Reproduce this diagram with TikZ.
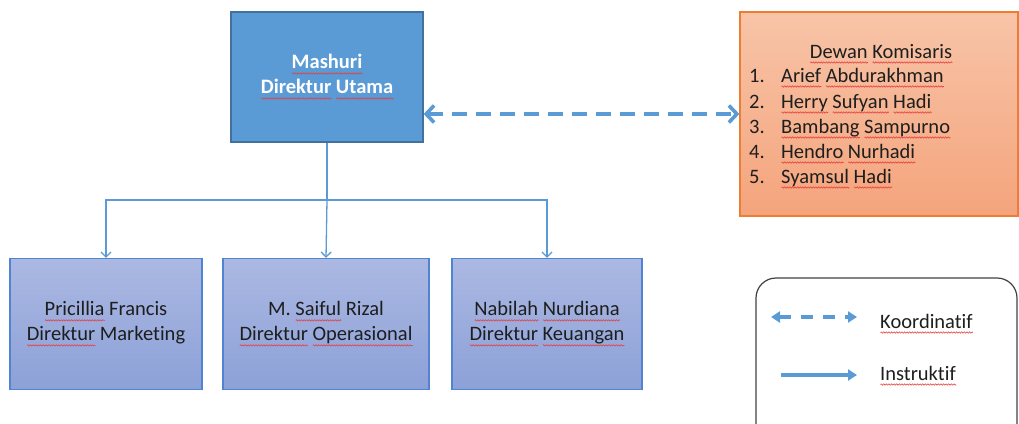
\documentclass[tikz,border=0pt]{standalone}
\usepackage{fontspec}
\setmainfont{Carlito}[Ligatures=NoCommon]
\usetikzlibrary{arrows.meta,decorations.pathmorphing}
\definecolor{mainblue}{RGB}{91,155,213}
\definecolor{mainblueborder}{RGB}{65,113,156}
\definecolor{dirtop}{RGB}{171,184,226}
\definecolor{dirbot}{RGB}{140,161,216}
\definecolor{dirborder}{RGB}{80,132,210}
\definecolor{kotop}{RGB}{248,196,168}
\definecolor{kobot}{RGB}{244,164,124}
\definecolor{koborder}{RGB}{237,125,49}
\definecolor{txt}{RGB}{30,30,30}
\definecolor{sqred}{RGB}{230,60,60}
\newsavebox\sqbox
\newlength\sqlen
\newcommand\sq[1]{\sbox\sqbox{#1}\setlength\sqlen{\wd\sqbox}\leavevmode\rlap{\tikz[baseline=0pt,x=1pt,y=1pt]\draw[sqred,line width=0.55pt,decorate,decoration={zigzag,segment length=2.6pt,amplitude=0.7pt}] (0,-4.5)--(\sqlen,-4.5);}\usebox\sqbox}
\tikzset{
  basefont/.style={font=\fontsize{20.5}{25}\selectfont},
  topbox/.style={draw=mainblueborder, fill=mainblue, line width=1.2pt,
    minimum width=192pt, minimum height=130pt, align=center, text=white,
    font=\fontsize{20.5}{25}\selectfont\bfseries},
  dirbox/.style={draw=dirborder, line width=1.2pt, top color=dirtop, bottom color=dirbot,
    minimum height=131pt, align=center, text=txt, basefont},
  kobox/.style={draw=koborder, line width=1.3pt, top color=kotop, bottom color=kobot,
    minimum width=278pt, minimum height=204pt},
  kotext/.style={text=txt, basefont, inner sep=0pt},
  conn/.style={draw=mainblue, line width=1.3pt, -{Straight Barb[length=5pt,width=10pt]}},
  coordarrow/.style={draw=mainblue, line width=3.6pt, dash pattern=on 15pt off 9pt,
    {Straight Barb[length=8pt,width=17pt]}-{Straight Barb[length=8pt,width=17pt]}},
  legdash/.style={draw=mainblue, line width=3.4pt, dash pattern=on 12pt off 10pt,
    {Triangle[length=9pt,width=11pt]}-{Triangle[length=9pt,width=11pt]}},
  legsolid/.style={draw=mainblue, line width=3.4pt, -{Triangle[length=9pt,width=11pt]}},
  legbox/.style={draw=black!75, line width=1.2pt, rounded corners=20pt},
}
\begin{document}
\begin{tikzpicture}[x=1pt,y=-1pt]
\useasboundingbox (0,0) rectangle (1019,423);
% top box
\node[topbox] (top) at (327,77) {\sq{Mashuri}\\\sq{Direktur} \sq{Utama}};
% directors
\node[dirbox, minimum width=192pt] (d1) at (106,324) {\sq{Pricillia} Francis\\\sq{Direktur} Marketing};
\node[dirbox, minimum width=206pt] (d2) at (326,324) {M. \sq{Saiful} Rizal\\\sq{Direktur} \sq{Operasional}};
\node[dirbox, minimum width=190pt] (d3) at (547,324) {\sq{Nabilah} \sq{Nurdiana}\\\sq{Direktur} \sq{Keuangan}};
% komisaris
\node[kobox] (ko) at (879,114) {};
\node[kotext, anchor=base] (kt) at (881,58) {\sq{Dewan} \sq{Komisaris}};
\node[kotext, anchor=base west] (n1) at (749,82) {1.};
\node[kotext, anchor=base west] (n2) at (749,108) {2.};
\node[kotext, anchor=base west] (n3) at (749,133) {3.};
\node[kotext, anchor=base west] (n4) at (749,158) {4.};
\node[kotext, anchor=base west] (n5) at (749,183) {5.};
\node[kotext, anchor=base west] (k1) at (781,82) {\sq{Arief} \sq{Abdurakhman}};
\node[kotext, anchor=base west] (k2) at (781,108) {\sq{Herry} \sq{Sufyan} \sq{Hadi}};
\node[kotext, anchor=base west] (k3) at (781,133) {\sq{Bambang} \sq{Sampurno}};
\node[kotext, anchor=base west] (k4) at (781,158) {\sq{Hendro} \sq{Nurhadi}};
\node[kotext, anchor=base west] (k5) at (781,183) {\sq{Syamsul} \sq{Hadi}};
% connectors
\coordinate (split) at (327,200);
\draw[draw=mainblue, line width=1.3pt] (top.south) -- (split);
\draw[conn] (split) -| (d1.north);
\draw[conn] (split) -| (d3.north);
\draw[conn] (split) -- (d2.north);
\draw[coordarrow] (top.east |- ko.west) -- (ko.west);
% legend
\begin{scope}
\clip (0,0) rectangle (1019,423);
\draw[legbox] (756,278) rectangle (1017,460);
\end{scope}
\coordinate (la) at (771,317);
\coordinate (lb) at (857,317);
\coordinate (lc) at (781,375);
\coordinate (ld) at (857,375);
\draw[legdash] (la) -- (lb);
\draw[legsolid] (lc) -- (ld);
\node[kotext, anchor=base west] (lk) at (880,328) {\sq{Koordinatif}};
\node[kotext, anchor=base west] (li) at (880,380) {\sq{Instruktif}};
\end{tikzpicture}
\end{document}
